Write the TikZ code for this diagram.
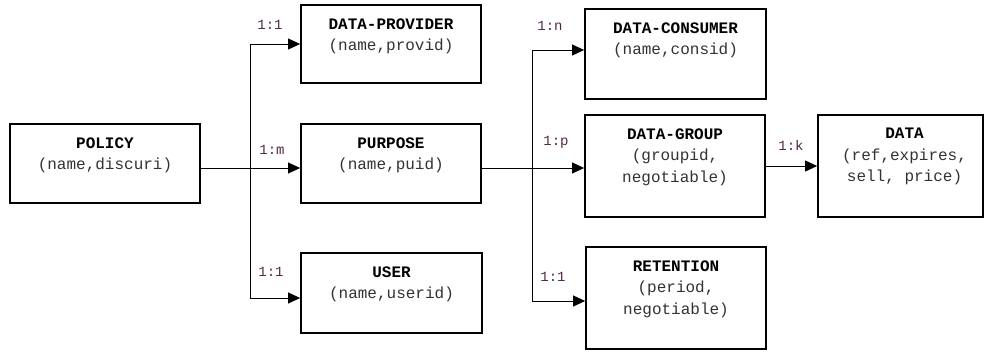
\documentclass[tikz,border=0pt]{standalone}
\usepackage{fontspec}
\setmainfont{Liberation Mono}
\usetikzlibrary{arrows.meta}
\definecolor{labcol}{RGB}{80,40,72}
\definecolor{attcol}{RGB}{50,50,50}
\begin{document}
\begin{tikzpicture}[x=1pt,y=-1pt,
  box/.style={draw, line width=1.8pt, rectangle, inner sep=0pt},
  txt/.style={anchor=north, align=center, inner sep=0pt, font=\fontsize{16}{21.5}\selectfont, text=attcol},
  card/.style={font=\fontsize{14}{16}\selectfont, text=labcol, inner sep=0pt},
  conn/.style={line width=0.9pt},
  arr/.style={conn, -{Triangle[length=12pt,width=11pt]}}]
\useasboundingbox (0,0) rectangle (984,351);
% boxes
\node[box, minimum width=190pt, minimum height=79pt] (policy) at (105,163.5) {};
\node[box, minimum width=180pt, minimum height=78pt] (provider) at (391,44) {};
\node[box, minimum width=180pt, minimum height=79pt] (purpose) at (391,163.5) {};
\node[box, minimum width=181pt, minimum height=80pt] (user) at (391.5,293) {};
\node[box, minimum width=181pt, minimum height=90pt] (consumer) at (675.5,54) {};
\node[box, minimum width=180pt, minimum height=102pt] (group) at (675,166) {};
\node[box, minimum width=180pt, minimum height=102pt] (retention) at (676,298) {};
\node[box, minimum width=165pt, minimum height=102pt] (data) at (900.5,166) {};
% texts
\node[txt] (tpolicy) at ([yshift=-14pt]policy.north) {\textbf{\textcolor{black}{POLICY}}\\(name,discuri)};
\node[txt] (tprovider) at ([yshift=-14pt]provider.north) {\textbf{\textcolor{black}{DATA-PROVIDER}}\\(name,provid)};
\node[txt] (tpurpose) at ([yshift=-14pt]purpose.north) {\textbf{\textcolor{black}{PURPOSE}}\\(name,puid)};
\node[txt] (tuser) at ([yshift=-14pt]user.north) {\textbf{\textcolor{black}{USER}}\\(name,userid)};
\node[txt] (tconsumer) at ([yshift=-14pt]consumer.north) {\textbf{\textcolor{black}{DATA-CONSUMER}}\\(name,consid)};
\node[txt] (tgroup) at ([yshift=-14pt]group.north) {\textbf{\textcolor{black}{DATA-GROUP}}\\(groupid,\\negotiable)};
\node[txt] (tretention) at ([yshift=-14pt]retention.north) {\textbf{\textcolor{black}{RETENTION}}\\(period,\\negotiable)};
\node[txt] (tdata) at ([xshift=4pt,yshift=-14pt]data.north) {\textbf{\textcolor{black}{DATA}}\\(ref,expires,\\sell, price)};
% junction coordinates
\coordinate (j1) at (250,168);
\coordinate (j2) at (532,168);
\coordinate (uw) at ([yshift=-5pt]user.west);
\coordinate (cw) at ([yshift=4pt]consumer.west);
\coordinate (rw) at ([yshift=-3pt]retention.west);
% connectors left
\draw[arr] (policy.east |- j1) -- (purpose.west |- j1);
\draw[conn] (j1 |- provider.west) -- (j1 |- uw);
\draw[arr] (j1 |- provider.west) -- (provider.west);
\draw[arr] (j1 |- uw) -- (uw);
% connectors right
\draw[arr] (purpose.east |- j2) -- (group.west |- j2);
\draw[conn] (j2 |- cw) -- (j2 |- rw);
\draw[arr] (j2 |- cw) -- (cw);
\draw[arr] (j2 |- rw) -- (rw);
\draw[arr] (group.east) -- (data.west);
% cardinalities
\node[card] (c1) at (270,25) {1:1};
\node[card] (c2) at (272,150) {1:m};
\node[card] (c3) at (271,272) {1:1};
\node[card] (c4) at (550,26) {1:n};
\node[card] (c5) at (556,142) {1:p};
\node[card] (c6) at (553,277) {1:1};
\node[card] (c7) at (791,145) {1:k};
\end{tikzpicture}
\end{document}
